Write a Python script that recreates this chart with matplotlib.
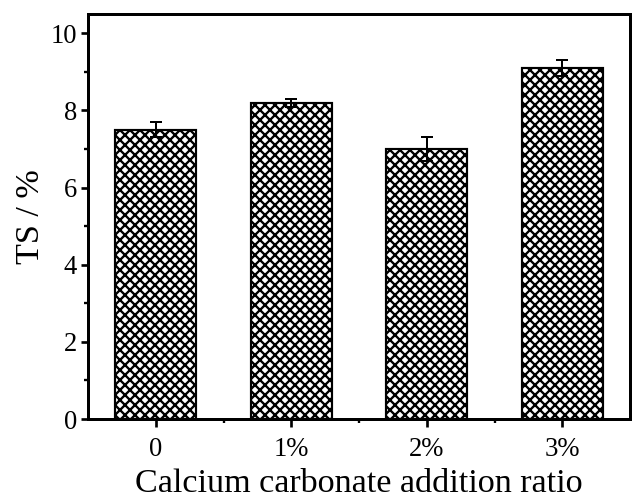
import numpy as np
import matplotlib
matplotlib.use('Agg')
import matplotlib.pyplot as plt

categories = ['0', '1%', '2%', '3%']
ts_values = [7.5, 8.2, 7.0, 9.1]
ts_errors = [0.2, 0.1, 0.3, 0.2]

plt.rcParams['font.family'] = ['Liberation Serif', 'DejaVu Serif']
plt.rcParams['hatch.linewidth'] = 1.4
plt.rcParams['hatch.color'] = 'black'

fig = plt.figure(figsize=(632 / 120, 498 / 120), dpi=120)
ax = fig.add_axes([88 / 632, 1 - 419 / 498, 1 - 88 / 632 - 0.003, (419 - 14) / 498])

x = np.arange(len(categories))
ax.bar(x, ts_values, width=0.6, color='white', edgecolor='black', linewidth=1.3,
       hatch='xxxx', zorder=2)
ax.errorbar(x, ts_values, yerr=ts_errors, fmt='none', ecolor='black',
            elinewidth=1.2, capsize=3.8, capthick=1.2, zorder=3)

ax.set_xlim(-0.5, 3.5)
ax.set_ylim(0, 10.5)
ax.set_xticks(x)
ax.set_xticklabels(categories)
ax.set_xticks(x[:-1] + 0.5, minor=True)
ax.set_yticks(np.arange(0, 11, 2))
ax.set_yticks(np.arange(1, 10, 2), minor=True)

for s in ax.spines.values():
    s.set_linewidth(1.8)
ax.tick_params(which='major', direction='out', length=4.5, width=1.6, labelsize=16, pad=2)
ax.tick_params(which='minor', direction='out', length=2.5, width=1.4)
ax.tick_params(axis='x', pad=6)

ax.set_xlabel('Calcium carbonate addition ratio', fontsize=20.5, labelpad=4)
ax.set_ylabel('TS / %', fontsize=20.5, labelpad=3)

fig.savefig('out.png', dpi=120)
